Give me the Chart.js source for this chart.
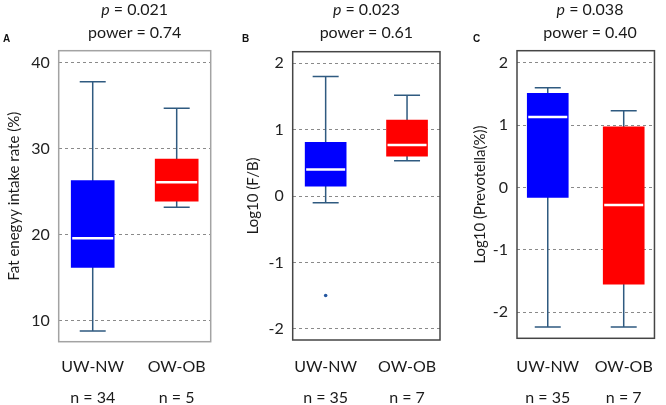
<!DOCTYPE html>
<html><head><meta charset="utf-8">
<script src="https://cdn.jsdelivr.net/npm/chart.js@4.4.1/dist/chart.umd.min.js"></script>
<style>
html,body{margin:0;padding:0;background:#fff;}
#wrap{position:relative;width:666px;height:405px;overflow:hidden;font-family:Lato,'Open Sans',sans-serif;color:#1a1a1a;background:#fff;}
canvas{position:absolute;top:0;}
.t{position:absolute;width:160px;text-align:center;font-size:16px;line-height:20px;white-space:nowrap;}
.l{position:absolute;font:bold 10px 'Liberation Sans',Arial,sans-serif;line-height:10px;color:#111;}
</style></head><body>
<div id="wrap"></div>
<script>
// ---------- DATA ----------
const categories = ['UW-NW', 'OW-OB'];

// Panel A: fat energy intake rate (%)
const fatMin    = [8.8, 23.2];
const fatQ1     = [16.2, 23.9];
const fatMedian = [19.6, 26.1];
const fatQ3     = [26.3, 28.8];
const fatMax    = [37.8, 34.7];
const fatOutliers = [[], []];
const fatN      = ['n = 34', 'n = 5'];
const fatTicks  = [10, 20, 30, 40];

// Panel B: Log10 (F/B)
const fbMin    = [-0.1, 0.53];
const fbQ1     = [0.15, 0.6];
const fbMedian = [0.4, 0.77];
const fbQ3     = [0.81, 1.145];
const fbMax    = [1.8, 1.52];
const fbOutliers = [[-1.5], []];
const fbN      = ['n = 35', 'n = 7'];
const fbTicks  = [-2, -1, 0, 1, 2];

// Panel C: Log10 (Prevotella(%))
const prevMin    = [-2.24, -2.24];
const prevQ1     = [-0.16, -1.55];
const prevMedian = [1.13, -0.28];
const prevQ3     = [1.51, 0.97];
const prevMax    = [1.6, 1.23];
const prevOutliers = [[], []];
const prevN      = ['n = 35', 'n = 7'];
const prevTicks  = [-2, -1, 0, 1, 2];

const panelLetters = ['A', 'B', 'C'];
const pValues = ['0.021', '0.023', '0.038'];
const powers  = ['0.74', '0.61', '0.40'];
const yTitles = ['Fat enegyy intake rate (%)', 'Log10 (F/B)', 'Log10 (Prevotella(%))'];

// ---------- LAYOUT / STYLE ----------
const FONT = "Lato, 'Open Sans', sans-serif";
const H = 405;
const panels = [
  {stats:{min:fatMin,q1:fatQ1,med:fatMedian,q3:fatQ3,max:fatMax,out:fatOutliers}, n:fatN, ticks:fatTicks,
   yMin:7.56, yMax:41.4, left:0, width:225, yW:58.7, rPad:14.3, top:50.7, bottom:341.7, titlePad:5,
   frame:'#a3a3a3', barW:43, letterX:3},
  {stats:{min:fbMin,q1:fbQ1,med:fbMedian,q3:fbQ3,max:fbMax,out:fbOutliers}, n:fbN, ticks:fbTicks,
   yMin:-2.17, yMax:2.175, left:225, width:225, yW:67.7, rPad:10, top:51.7, bottom:340, titlePad:19,
   frame:'#454545', barW:41, letterX:242},
  {stats:{min:prevMin,q1:prevQ1,med:prevMedian,q3:prevQ3,max:prevMax,out:prevOutliers}, n:prevN, ticks:prevTicks,
   yMin:-2.42, yMax:2.193, left:450, width:216, yW:67, rPad:3, top:50.7, bottom:338.3, titlePad:21,
   frame:'#454545', barW:41, letterX:473}
];
const boxColors = ['#0000ff', '#ff0000'];
const whiskerColor = '#2f5a80';

function makeBoxPlugin(s, frameColor) {
  return {
    id: 'boxplot',
    beforeDatasetsDraw(chart) {
      const {ctx, scales: {x, y}} = chart;
      ctx.save();
      ctx.strokeStyle = whiskerColor;
      ctx.lineWidth = 1.5;
      s.min.forEach((mn, i) => {
        const cx = x.getPixelForValue(i);
        const y0 = y.getPixelForValue(mn), y1 = y.getPixelForValue(s.max[i]);
        const ch = 13;
        ctx.beginPath();
        ctx.moveTo(cx, y0); ctx.lineTo(cx, y1);
        ctx.moveTo(cx - ch, y0); ctx.lineTo(cx + ch, y0);
        ctx.moveTo(cx - ch, y1); ctx.lineTo(cx + ch, y1);
        ctx.stroke();
      });
      ctx.restore();
    },
    afterDatasetsDraw(chart) {
      const {ctx, scales: {y}, chartArea: a} = chart;
      const meta = chart.getDatasetMeta(0);
      ctx.save();
      ctx.strokeStyle = '#ffffff';
      ctx.lineWidth = 2.5;
      s.med.forEach((m, i) => {
        const bar = meta.data[i];
        const py = y.getPixelForValue(m);
        ctx.beginPath();
        ctx.moveTo(bar.x - bar.width / 2 + 1, py);
        ctx.lineTo(bar.x + bar.width / 2 - 1, py);
        ctx.stroke();
      });
      ctx.strokeStyle = frameColor;
      ctx.lineWidth = 1.5;
      ctx.strokeRect(a.left, a.top, a.right - a.left, a.bottom - a.top);
      ctx.restore();
    }
  };
}

const wrap = document.getElementById('wrap');
panels.forEach((p, k) => {
  const cv = document.createElement('canvas');
  cv.width = p.width; cv.height = H;
  cv.style.left = p.left + 'px';
  cv.style.width = p.width + 'px'; cv.style.height = H + 'px';
  wrap.appendChild(cv);

  const s = p.stats;
  const boxData = categories.map((c, i) => ({x: i, y: [s.q1[i], s.q3[i]]}));
  const outData = [];
  s.out.forEach((arr, i) => arr.forEach(v => outData.push({x: i, y: v})));
  const labelPad = 366.7 - p.bottom - 15.8;

  new Chart(cv, {
    type: 'bar',
    data: {
      datasets: [
        {type: 'bar', data: boxData, backgroundColor: boxColors, borderWidth: 0, barThickness: p.barW, order: 2},
        {type: 'scatter', data: outData, pointRadius: 1.8, backgroundColor: '#2557a0', borderWidth: 0, order: 1}
      ]
    },
    options: {
      responsive: false,
      animation: false,
      events: [],
      layout: {padding: {left: 0, right: p.rPad, top: p.top, bottom: 0}},
      plugins: {legend: {display: false}, tooltip: {enabled: false}, title: {display: false}},
      scales: {
        x: {
          type: 'linear', min: -0.405, max: 1.405, offset: false, grace: 0,
          afterBuildTicks: sc => { sc.ticks = categories.map((c, i) => ({value: i})); },
          afterFit: sc => { sc.height = H - p.bottom; },
          grid: {display: false, drawTicks: false, offset: false},
          border: {display: false},
          ticks: {autoSkip: false, maxRotation: 0, minRotation: 0, padding: labelPad, color: '#1a1a1a',
                  font: {family: FONT, size: 16, lineHeight: 1.975},
                  callback: (v, i) => [categories[i], p.n[i]]}
        },
        y: {
          min: p.yMin, max: p.yMax,
          afterBuildTicks: sc => { sc.ticks = p.ticks.map(v => ({value: v})); },
          afterFit: sc => { sc.width = p.yW; },
          grid: {color: '#8a8a8a', lineWidth: 1, drawTicks: false},
          border: {display: false, dash: [3, 3]},
          ticks: {padding: 9, color: '#222', font: {family: FONT, size: 16}, callback: v => String(v)},
          title: {display: true, text: yTitles[k], color: '#1a1a1a', font: {family: FONT, size: 15},
                  padding: {top: p.titlePad, bottom: 0}}
        }
      }
    },
    plugins: [makeBoxPlugin(s, p.frame)]
  });

  // titles and panel letter (real text)
  const cx = p.left + p.yW + ((p.width - p.yW - p.rPad) / 2);
  const t1 = document.createElement('div');
  t1.className = 't'; t1.style.left = (cx - 80) + 'px'; t1.style.top = '-1px';
  t1.innerHTML = '<i>p</i> = ' + pValues[k];
  wrap.appendChild(t1);
  const t2 = document.createElement('div');
  t2.className = 't'; t2.style.left = (cx - 80) + 'px'; t2.style.top = '21.5px';
  t2.textContent = 'power = ' + powers[k];
  wrap.appendChild(t2);
  const lt = document.createElement('div');
  lt.className = 'l'; lt.style.left = p.letterX + 'px'; lt.style.top = '34px';
  lt.textContent = panelLetters[k];
  wrap.appendChild(lt);
});
</script>
</body></html>
